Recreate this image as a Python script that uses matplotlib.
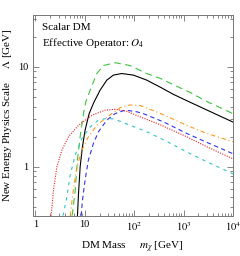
import matplotlib
matplotlib.use("Agg")
import matplotlib.pyplot as plt
from matplotlib.ticker import LogLocator, FixedLocator, NullFormatter

plt.rcParams['font.family'] = ['Liberation Serif', 'DejaVu Serif']
plt.rcParams['mathtext.fontset'] = 'stix'

# data (DM mass [GeV], Lambda [GeV])
black_m = [7.14, 7.5, 8.1, 9.0, 10.2, 12.3, 15.3, 20.5, 28, 38, 56, 97, 180, 350, 625, 1200, 2950, 10000]
black_L = [0.324, 0.54, 1.0, 1.58, 2.33, 3.4, 4.4, 5.84, 7.36, 8.26, 8.57, 8.26, 7.36, 6.2, 5.3, 4.55, 3.7, 2.8]

green_m = [5.5, 5.66, 6.43, 7.14, 8.1, 9.5, 10.6, 12.9, 17.6, 24, 41, 83, 180, 350, 675, 1400, 2700, 10000]
green_L = [0.324, 0.34, 0.585, 1.17, 2.0, 3.45, 4.5, 5.84, 8.57, 10.3, 11.0, 10.3, 8.57, 7.6, 6.5, 5.5, 4.6, 3.4]

red_m = [2.1, 2.34, 2.74, 3.46, 4.7, 7.5, 13.9, 26, 41, 70, 132, 300, 1150, 3000, 10000]
red_L = [0.324, 0.585, 1.0, 1.47, 2.0, 2.6, 3.27, 3.69, 3.76, 3.6, 3.16, 2.7, 2.0, 1.58, 1.2]

blue_m = [8.5, 9.0, 10.2, 11.9, 15, 19, 28, 41, 66, 113, 154, 400, 1150, 3000, 10000]
blue_L = [0.324, 0.46, 0.74, 1.17, 1.71, 2.24, 2.93, 3.4, 3.69, 3.55, 3.4, 2.8, 2.16, 1.75, 1.35]

orange_m = [5.1, 5.95, 6.95, 8.8, 11.9, 17.6, 26, 38, 55, 80, 132, 350, 1150, 3000, 10000]
orange_L = [0.324, 0.61, 1.0, 1.47, 2.0, 2.6, 3.04, 3.5, 3.95, 4.15, 4.1, 3.4, 2.6, 2.15, 1.78]

cyan_m = [3.6, 3.73, 4.36, 5.1, 6.43, 8.8, 12.9, 19, 28, 40, 80, 180, 450, 1150, 3000, 10000]
cyan_L = [0.324, 0.34, 0.5, 0.83, 1.31, 1.92, 2.5, 2.93, 3.05, 3.0, 2.62, 2.24, 1.8, 1.41, 1.12, 0.85]

x_ticks = [1, 10, 100, 1000, 10000]
x_labels = ['1', '10', '$10^2$', '$10^3$', '$10^4$']
y_ticks = [1, 10]
y_labels = ['1', '10']

fig = plt.figure(figsize=(2.4, 2.56), dpi=100)
ax = fig.add_axes([32.5/240, 1-215.7/256, (233-32.5)/240, (215.7-15)/256])

lw = 0.8
ax.plot(green_m, green_L, color='#3cc43c', lw=lw, dashes=(6, 4))
ax.plot(black_m, black_L, color='black', lw=lw)
ax.plot(orange_m, orange_L, color='#ff9922', lw=lw, dashes=(4, 2.5, 1, 2.5))
ax.plot(blue_m, blue_L, color='#3333ee', lw=lw, dashes=(4, 3))
ax.plot(red_m, red_L, color='#ee2222', lw=lw, dashes=(1, 1.2))
ax.plot(cyan_m, cyan_L, color='#2ec4c4', lw=lw, dashes=(3, 4))

ax.set_xscale('log')
ax.set_yscale('log')
ax.set_xlim(0.88, 10000)
ax.set_ylim(0.324, 33)

ax.xaxis.set_major_locator(FixedLocator(x_ticks))
ax.set_xticklabels(x_labels)
ax.yaxis.set_major_locator(FixedLocator(y_ticks))
ax.set_yticklabels(y_labels)
ax.xaxis.set_minor_locator(LogLocator(base=10, subs=range(2, 10)))
ax.yaxis.set_minor_locator(LogLocator(base=10, subs=range(2, 10)))
ax.xaxis.set_minor_formatter(NullFormatter())
ax.yaxis.set_minor_formatter(NullFormatter())

ax.tick_params(which='both', direction='in', top=True, right=True,
               color='#555555', width=0.5, labelsize=7.5, pad=3)
ax.tick_params(which='major', length=4)
ax.tick_params(which='minor', length=2)
for s in ax.spines.values():
    s.set_color('#777777')
    s.set_linewidth(0.7)

ax.text(0.045, 0.94, 'Scalar DM', transform=ax.transAxes, fontsize=8,
        va='center', ha='left')
ax.text(0.045, 0.86, 'Effective Operator: $O_4$', transform=ax.transAxes,
        fontsize=8, va='center', ha='left')

ax.set_xlabel('DM Mass     $m_\\chi$ [GeV]', fontsize=8, labelpad=5)
ax.set_ylabel('New Energy Physics Scale     $\\Lambda$ [GeV]', fontsize=8, labelpad=3)

fig.savefig('out.png', dpi=100)
